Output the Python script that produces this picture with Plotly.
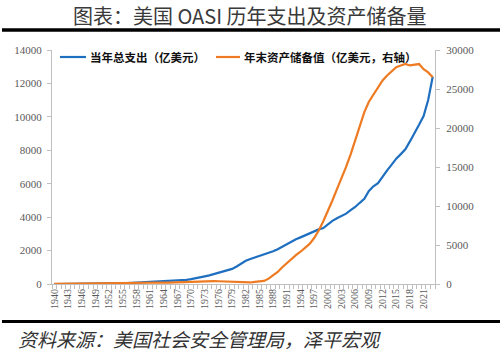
import plotly.graph_objects as go

years = list(range(1940, 2024))

# OASI annual expenditure (亿美元), left axis
expenditure = [
    0.4, 0.9, 1.3, 1.7, 2.1, 2.7, 3.8, 4.7, 5.6, 6.7,
    9.6, 18.9, 21.9, 30.1, 36.7, 50.8, 54.9, 66.7, 78.8, 90.5,
    102.7, 111.9, 130.2, 142.2, 145.8, 167.4, 182.7, 194.7, 226.4, 246.9,
    288.0, 334.1, 371.2, 457.4, 516.2, 585.2, 657.0, 734.8, 803.5, 905.6,
    1050.8, 1238.0, 1388.1, 1492.2, 1578.4, 1661.8, 1768.1, 1835.9, 1954.5, 2079.9,
    2229.9, 2404.7, 2548.8, 2677.6, 2790.7, 2916.3, 3028.6, 3162.6, 3267.6, 3343.8,
    3583.4, 3775.5, 3937.5, 4060.0, 4210.3, 4418.5, 4609.8, 4858.8, 5092.6, 5571.8,
    5849.4, 6037.5, 6454.9, 6801.0, 7142.1, 7499.7, 7770.4, 8060.3, 8530.7, 9073.0,
    9524.9, 10050.0, 11012.0, 12400.0,
]

# OASI year-end reserves (亿美元), right axis
reserves = [
    20.3, 27.6, 36.9, 48.2, 60.1, 71.2, 81.5, 93.6, 107.2, 118.2,
    137.2, 155.4, 174.4, 187.1, 205.8, 216.6, 225.2, 223.9, 218.6, 201.4,
    203.2, 197.3, 183.4, 184.8, 191.3, 182.4, 205.7, 242.2, 257.0, 300.8,
    324.5, 337.9, 353.2, 364.9, 377.8, 369.9, 353.9, 324.9, 275.2, 246.6,
    228.2, 214.9, 220.9, 196.7, 271.2, 358.4, 390.8, 688.1, 1097.6, 1550.6,
    2142.0, 2677.7, 3191.6, 3693.4, 4134.6, 4585.0, 5140.0, 5891.0, 6856.0, 8041.0,
    9310.0, 10711.0, 12171.0, 13553.0, 15006.0, 16630.0, 18443.0, 20236.0, 22029.0, 23368.0,
    24290.0, 25240.0, 26102.0, 26740.0, 27299.0, 27802.0, 28013.0, 28208.0, 28018.0, 28150.0,
    28200.0, 27530.0, 27120.0, 26500.0,
]

x_tick_years = list(range(1940, 2022, 3))
x_tick_text = [str(y) for y in x_tick_years]
left_ticks = list(range(0, 14001, 2000))
right_ticks = list(range(0, 30001, 5000))

name_exp = "当年总支出（亿美元）"
name_res = "年末资产储备值（亿美元，右轴）"
title_text = "图表：美国 OASI 历年支出及资产储备量"
source_text = "资料来源：美国社会安全管理局，泽平宏观"

color_exp = "#1F6FC0"
color_res = "#EE7A22"
axis_color = "#bfbfbf"
tick_font = dict(family="Liberation Serif, Times New Roman, serif", size=11, color="#595959")
cjk = "Noto Sans CJK SC, sans-serif"

fig = go.Figure()
fig.add_trace(go.Scatter(
    x=years, y=expenditure, name=name_exp, mode="lines",
    line=dict(color=color_exp, width=2.2), yaxis="y", showlegend=False,
))
fig.add_trace(go.Scatter(
    x=years, y=reserves, name=name_res, mode="lines",
    line=dict(color=color_res, width=2.2), yaxis="y2", showlegend=False,
))

L, R, T, B = 52, 65, 50, 69
W, H = 500, 353
pw = W - L - R
ph = H - T - B


def px_x(px):
    return (px - L) / pw


def px_y(py):
    return (H - B - py) / ph


legend_y = px_y(57)
shapes = [
    dict(type="line", xref="paper", yref="paper", x0=px_x(2), x1=px_x(500),
         y0=px_y(30), y1=px_y(30), line=dict(color="black", width=3.5)),
    dict(type="line", xref="paper", yref="paper", x0=px_x(2), x1=px_x(500),
         y0=px_y(321.5), y1=px_y(321.5), line=dict(color="black", width=3)),
    dict(type="line", xref="paper", yref="paper", x0=px_x(60), x1=px_x(86),
         y0=legend_y, y1=legend_y, line=dict(color=color_exp, width=2.2)),
    dict(type="line", xref="paper", yref="paper", x0=px_x(216), x1=px_x(240),
         y0=legend_y, y1=legend_y, line=dict(color=color_res, width=2.2)),
]

annotations = [
    dict(text=f"<b>{name_exp}</b>", xref="paper", yref="paper", x=px_x(88), y=legend_y,
         xanchor="left", yanchor="middle", showarrow=False,
         font=dict(family=cjk, size=11.5, color="#111111")),
    dict(text=f"<b>{name_res}</b>", xref="paper", yref="paper", x=px_x(242), y=legend_y,
         xanchor="left", yanchor="middle", showarrow=False,
         font=dict(family=cjk, size=11.5, color="#111111")),
    dict(text=f"<i>{source_text}</i>", xref="paper", yref="paper",
         x=px_x(16), y=px_y(338), xanchor="left", yanchor="middle", showarrow=False,
         font=dict(family=cjk, size=19, color="#333333")),
    dict(text=title_text, xref="paper", yref="paper",
         x=px_x(250), y=px_y(15), xanchor="center", yanchor="middle", showarrow=False,
         font=dict(family=cjk, size=20, color="#3a3a3a")),
]

fig.update_layout(
    width=W, height=H,
    margin=dict(l=L, r=R, t=T, b=B, pad=0),
    paper_bgcolor="white", plot_bgcolor="white",
    showlegend=False,
    xaxis=dict(
        range=[1939.5, 2023.5], tickmode="array", tickvals=x_tick_years, ticktext=x_tick_text,
        tickangle=-90, ticks="", showline=True, linecolor=axis_color, linewidth=1,
        tickfont=dict(family="Liberation Serif, Times New Roman, serif", size=10, color="#595959"),
        minor=dict(ticks="outside", tickmode="linear", tick0=1939.5, dtick=1, ticklen=4,
                   tickcolor=axis_color, tickwidth=1, showgrid=False),
        showgrid=False, zeroline=False,
    ),
    yaxis=dict(
        range=[0, 14000], tickmode="array", tickvals=left_ticks,
        ticktext=[str(v) for v in left_ticks],
        ticks="outside", ticklen=4, tickcolor=axis_color, showline=True, linecolor=axis_color,
        tickfont=tick_font, showgrid=False, zeroline=False, ticklabelstandoff=3,
    ),
    yaxis2=dict(
        range=[0, 30000], tickmode="array", tickvals=right_ticks,
        ticktext=[str(v) for v in right_ticks], overlaying="y", side="right",
        ticks="outside", ticklen=4, tickcolor=axis_color, showline=True, linecolor=axis_color,
        tickfont=tick_font, showgrid=False, zeroline=False, ticklabelstandoff=4,
    ),
    shapes=shapes,
    annotations=annotations,
)

fig.write_html("out.html")
